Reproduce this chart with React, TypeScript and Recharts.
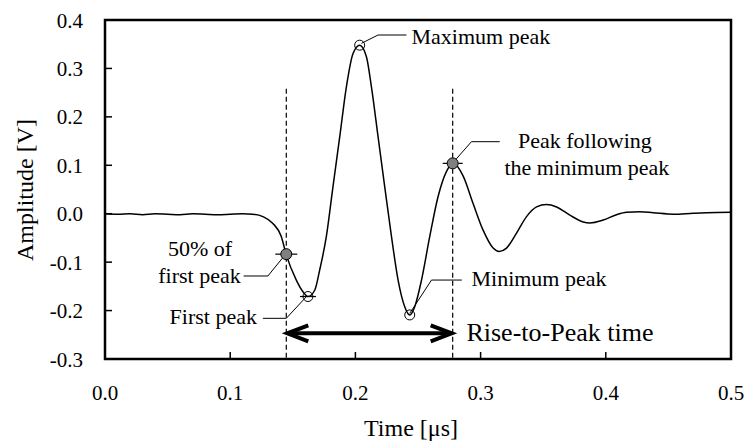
import React from "react";
import {
  ComposedChart,
  Line,
  XAxis,
  YAxis,
  ReferenceArea,
  ReferenceLine,
  ReferenceDot,
} from "recharts";

const FONT = '"Liberation Serif", "Times New Roman", Times, serif';

// waveform
const time = [
  0, 0.01, 0.02, 0.03, 0.04, 0.05, 0.06, 0.07, 0.08, 0.09, 0.1, 0.11, 0.118,
  0.1261, 0.1341, 0.1408, 0.1448, 0.1528, 0.1581, 0.1621, 0.1675, 0.1715,
  0.1768, 0.1821, 0.1875, 0.1928, 0.1981, 0.2034, 0.2088, 0.2128, 0.2181,
  0.2234, 0.2288, 0.2341, 0.2394, 0.2434, 0.2474, 0.2528, 0.2594, 0.266,
  0.2727, 0.278, 0.286, 0.294, 0.302, 0.31, 0.3148, 0.3207, 0.3287, 0.3367,
  0.3447, 0.3527, 0.3607, 0.3713, 0.3819, 0.3873, 0.3979, 0.4086, 0.4166,
  0.4273, 0.4379, 0.4539, 0.4699, 0.4806, 0.5,
];
const amplitude = [
  0, -0.001, 0.0, -0.002, 0.0, -0.001, -0.002, 0.0, -0.001, -0.002, -0.001,
  0.0, -0.001, -0.006, -0.02, -0.047, -0.085, -0.137, -0.161, -0.171, -0.158,
  -0.116, -0.047, 0.056, 0.159, 0.262, 0.331, 0.348, 0.324, 0.262, 0.159,
  0.056, -0.047, -0.137, -0.192, -0.209, -0.192, -0.137, -0.047, 0.035, 0.087,
  0.104, 0.078, 0.021, -0.034, -0.071, -0.078, -0.071, -0.04, -0.006, 0.014,
  0.019, 0.014, -0.003, -0.017, -0.019, -0.013, -0.002, 0.003, 0.004, 0.002,
  -0.001, 0.001, 0.002, 0.003,
];

const xTicks = [0, 0.1, 0.2, 0.3, 0.4, 0.5];
const yTicks = [-0.3, -0.2, -0.1, 0, 0.1, 0.2, 0.3, 0.4];

// marked points: [t, v, filled, half-width of the horizontal bar]
const markT = [0.1448, 0.1621, 0.2034, 0.2434, 0.2777];
const markV = [-0.0835, -0.171, 0.348, -0.209, 0.104];
const markFilled = [true, false, false, false, true];
const markBar = [11, 8, 0, 0, 10];

// vertical dashed lines and the double arrow
const dashT = [0.1448, 0.2777];
const dashTop = 0.258;
const arrowV = -0.247;

// leader lines: three points each
const leaders = [
  [[0.2048, 0.3518], [0.2181, 0.369], [0.2408, 0.369]],
  [[0.2775, 0.1041], [0.2927, 0.1487], [0.3153, 0.1487]],
  [[0.2434, -0.2057], [0.2608, -0.137], [0.285, -0.137]],
  [[0.1448, -0.0818], [0.1301, -0.1286], [0.1107, -0.1286]],
  [[0.1608, -0.1714], [0.1448, -0.216], [0.1261, -0.216]],
];

const labelText = [
  "Maximum peak",
  "Peak following",
  "the minimum peak",
  "50% of",
  "first peak",
  "First peak",
  "Minimum peak",
  "Rise-to-Peak time",
];
const labelT = [0.2448, 0.3833, 0.3849, 0.0759, 0.0755, 0.0865, 0.2927, 0.2887];
const labelV = [0.3655, 0.1522, 0.0964, -0.0708, -0.1266, -0.2127, -0.1334, -0.2463];
const labelAnchor = ["start", "middle", "middle", "middle", "middle", "middle", "start", "start"];
const labelSize = [22, 22, 22, 22, 22, 22, 22, 26];

const data = time.map((t, i) => ({ t, v: amplitude[i] }));

const Marker = (filled: boolean, bar: number) => (p: any) => (
  <g>
    {bar > 0 && (
      <line x1={p.cx - bar} x2={p.cx + bar} y1={p.cy} y2={p.cy} stroke="#000" strokeWidth={1.2} />
    )}
    <circle
      cx={p.cx}
      cy={p.cy}
      r={filled ? 5.5 : 5}
      fill={filled ? "#808080" : "none"}
      stroke="#000"
      strokeWidth={1}
    />
  </g>
);

const TextAt = (text: string, anchor: string, size: number) => (p: any) => (
  <text
    x={p.cx}
    y={p.cy}
    textAnchor={anchor as any}
    dominantBaseline="central"
    fontFamily={FONT}
    fontSize={size}
    fill="#000"
  >
    {text}
  </text>
);

const Arrow = (p: any) => {
  const { x1, y1, x2 } = p;
  const hx = 22;
  const hy = 8;
  return (
    <g stroke="#000" strokeWidth={4} fill="none">
      <line x1={x1 + 4} y1={y1} x2={x2 - 4} y2={y1} />
      <polyline points={`${x1 + hx},${y1 - hy} ${x1 + 1},${y1} ${x1 + hx},${y1 + hy}`} />
      <polyline points={`${x2 - hx},${y1 - hy} ${x2 - 1},${y1} ${x2 - hx},${y1 + hy}`} />
    </g>
  );
};

// inward tick marks drawn together with the labels
const XTick = (p: any) => (
  <g>
    <line x1={p.x} x2={p.x} y1={p.y - 26} y2={p.y - 33} stroke="#000" strokeWidth={1.5} />
    <text x={p.x} y={p.y + 15} textAnchor="middle" fontFamily={FONT} fontSize={21} fill="#000">
      {Number(p.payload.value).toFixed(1)}
    </text>
  </g>
);

const YTick = (p: any) => (
  <g>
    <line x1={p.x + 22} x2={p.x + 29} y1={p.y} y2={p.y} stroke="#000" strokeWidth={1.5} />
    <text x={p.x} y={p.y + 7.5} textAnchor="end" fontFamily={FONT} fontSize={21} fill="#000">
      {Number(p.payload.value).toFixed(1)}
    </text>
  </g>
);

export default function App() {
  return (
    <div style={{ position: "absolute", left: 0, top: 0, background: "#fff" }}>
      <ComposedChart
        width={745}
        height={441}
        data={data}
        margin={{ top: 20, right: 14, bottom: 0, left: 0 }}
      >
        <XAxis
          dataKey="t"
          type="number"
          domain={[0, 0.5]}
          ticks={xTicks}
          interval={0}
          height={82}
          axisLine={false}
          tickLine={false}
          tickSize={0}
          tickMargin={26}
          tick={XTick}
          label={() => (
            <text
              x={411}
              y={436}
              textAnchor="middle"
              fontFamily={FONT}
              fontSize={24}
              fill="#000"
            >
              Time [μs]
            </text>
          )}
        />
        <YAxis
          type="number"
          domain={[-0.3, 0.4]}
          ticks={yTicks}
          interval={0}
          width={105}
          axisLine={false}
          tickLine={false}
          tickSize={0}
          tickMargin={22}
          tick={YTick}
          label={() => (
            <text
              x={0}
              y={0}
              transform="translate(25,190) rotate(-90)"
              textAnchor="middle"
              dominantBaseline="central"
              fontFamily={FONT}
              fontSize={24}
              fill="#000"
            >
              Amplitude [V]
            </text>
          )}
        />
        <ReferenceArea
          x1={0}
          x2={0.5}
          y1={-0.3}
          y2={0.4}
          fill="none"
          stroke="#000"
          strokeWidth={2.5}
        />
        {dashT.map((t) => (
          <ReferenceLine
            key={"d" + t}
            segment={[
              { x: t, y: dashTop },
              { x: t, y: -0.3 },
            ]}
            stroke="#000"
            strokeWidth={1.2}
            strokeDasharray="5 3"
          />
        ))}
        <Line
          dataKey="v"
          type="monotone"
          stroke="#000"
          strokeWidth={1.5}
          dot={false}
          isAnimationActive={false}
        />
        {leaders.map((pts, i) =>
          pts.slice(1).map((q, j) => (
            <ReferenceLine
              key={`l${i}-${j}`}
              segment={[
                { x: pts[j][0], y: pts[j][1] },
                { x: q[0], y: q[1] },
              ]}
              stroke="#000"
              strokeWidth={1}
            />
          ))
        )}
        <ReferenceLine
          segment={[
            { x: dashT[0], y: arrowV },
            { x: dashT[1], y: arrowV },
          ]}
          shape={Arrow}
        />
        {markT.map((t, i) => (
          <ReferenceDot
            key={"m" + i}
            x={t}
            y={markV[i]}
            r={5}
            shape={Marker(markFilled[i], markBar[i])}
          />
        ))}
        {labelText.map((s, i) => (
          <ReferenceDot
            key={"t" + i}
            x={labelT[i]}
            y={labelV[i]}
            r={1}
            shape={TextAt(s, labelAnchor[i], labelSize[i])}
          />
        ))}
      </ComposedChart>
    </div>
  );
}
